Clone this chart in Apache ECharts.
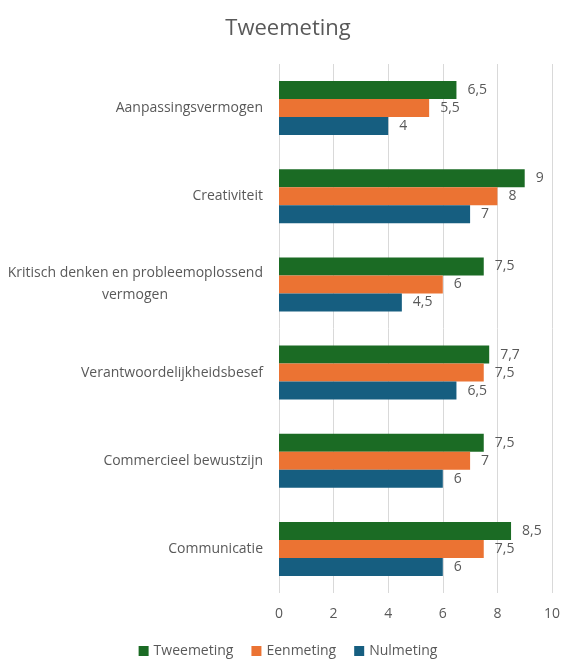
<!DOCTYPE html>
<html><head><meta charset="utf-8">
<script src="https://cdn.jsdelivr.net/npm/echarts@6/dist/echarts.min.js"></script>
<style>html,body{margin:0;padding:0;background:#fff}#c{width:576px;height:670px}</style>
</head><body><div id="c"></div>
<script>
const categories = ["Aanpassingsvermogen","Creativiteit","Kritisch denken en probleemoplossend vermogen","Verantwoordelijkheidsbesef","Commercieel bewustzijn","Communicatie"];
const tweemeting = [6.5, 9, 7.5, 7.7, 7.5, 8.5];
const eenmeting = [5.5, 8, 6, 7.5, 7, 7.5];
const nulmeting = [4, 7, 4.5, 6.5, 6, 6];
const xTicks = [0, 2, 4, 6, 8, 10];

const font = "'Open Sans', sans-serif";
const txt = '#595959';
const lbl = {show:true, position:'right', distance:11, color:txt, fontSize:14, fontFamily:font,
  formatter: p => String(p.value).replace('.', ',')};
const chart = echarts.init(document.getElementById('c'));
chart.setOption({
  animation:false,
  title:{text:'Tweemeting', left:'center', top:13, textStyle:{color:txt, fontSize:22, fontWeight:'normal', fontFamily:font}},
  legend:{bottom:7, left:'center', itemWidth:10, itemHeight:10, icon:'rect', itemGap:18,
    textStyle:{color:txt, fontSize:14, fontFamily:font}},
  grid:{left:279, right:24, top:64, bottom:77},
  xAxis:{type:'value', min:0, max:10, interval:2,
    axisLine:{show:false}, axisTick:{show:false},
    splitLine:{lineStyle:{color:'#d9d9d9'}},
    axisLabel:{color:txt, fontSize:14, fontFamily:font, margin:14, formatter: v => xTicks.includes(v) ? String(v) : ''}},
  yAxis:{type:'category', data:categories, inverse:true,
    axisLine:{show:false}, axisTick:{show:false},
    axisLabel:{color:txt, fontSize:14, fontFamily:font, margin:16, align:'right', lineHeight:22,
      formatter: v => v === "Kritisch denken en probleemoplossend vermogen" ? "Kritisch denken en probleemoplossend\n{w|vermogen}" : v,
      rich:{w:{width:256, align:'center', color:txt, fontSize:14, fontFamily:font, lineHeight:22}}}},
  series:[
    {name:'Tweemeting', type:'bar', data:tweemeting, barWidth:18, barGap:'0%', itemStyle:{color:'#1b6b24'}, label:lbl},
    {name:'Eenmeting', type:'bar', data:eenmeting, barWidth:18, itemStyle:{color:'#eb7333'}, label:lbl},
    {name:'Nulmeting', type:'bar', data:nulmeting, barWidth:18, itemStyle:{color:'#165e80'}, label:lbl}
  ]
});
</script></body></html>
